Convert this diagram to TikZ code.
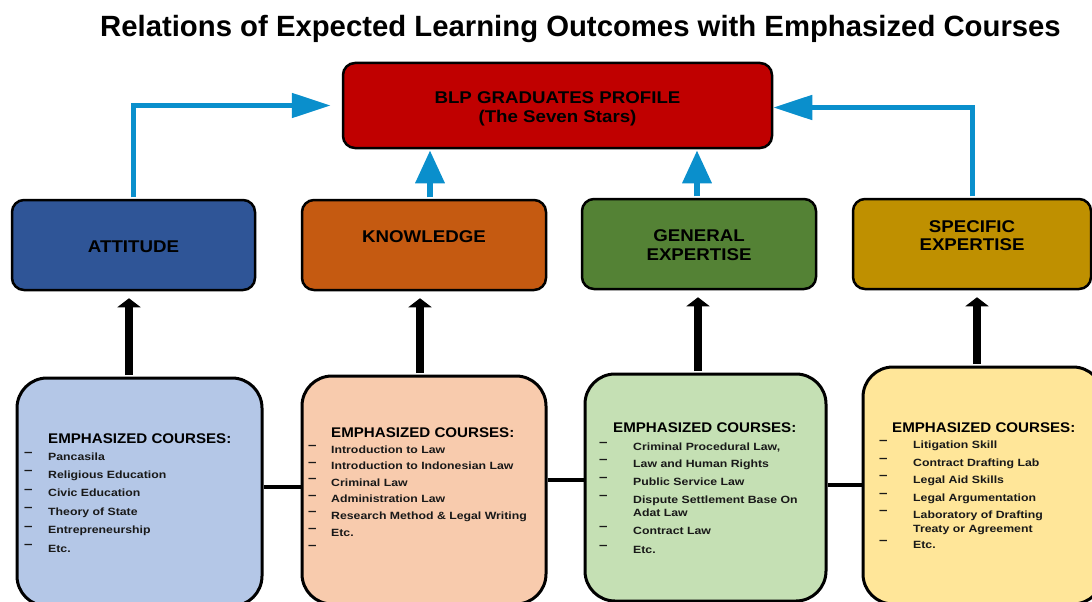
\documentclass[tikz,border=0pt]{standalone}
\usepackage{fontspec}
\setmainfont{Liberation Sans}
\newfontfamily\itemfont[FakeStretch=1.17]{Liberation Sans}
\newfontfamily\headfont[FakeStretch=1.08]{Liberation Sans}
\newfontfamily\lblfont[FakeStretch=1.1]{Liberation Sans}
\usetikzlibrary{arrows.meta}
\definecolor{cRed}{HTML}{C00000}
\definecolor{cAtt}{HTML}{2F5597}
\definecolor{cKnow}{HTML}{C55A11}
\definecolor{cGen}{HTML}{548235}
\definecolor{cSpec}{HTML}{BF9000}
\definecolor{cLBlue}{HTML}{B4C7E7}
\definecolor{cPeach}{HTML}{F8CBAD}
\definecolor{cLGreen}{HTML}{C5E0B4}
\definecolor{cLYellow}{HTML}{FFE699}
\definecolor{cArrow}{HTML}{0A8FCC}
\tikzset{
  topbox/.style={draw=black, line width=2.5pt, rounded corners=12pt, inner sep=0pt},
  botbox/.style={draw=black, line width=3pt, rounded corners=30pt, inner sep=0pt},
  lbl/.style={font=\lblfont\bfseries\fontsize{17}{20}\selectfont, text=black, anchor=base, inner sep=0pt},
  head/.style={font=\headfont\bfseries\fontsize{14}{16}\selectfont, text=black, anchor=base west, inner sep=0pt},
  itm/.style={font=\itemfont\bfseries\fontsize{10.5}{12}\selectfont, text=black!90, anchor=base west, inner sep=0pt},
  dsh/.style={font=\itemfont\bfseries\fontsize{13}{14}\selectfont, text=black!90, anchor=base west, inner sep=0pt},
  blu/.style={draw=cArrow, line width=5pt, -{Triangle[length=39pt,width=24pt]}},
  blum/.style={draw=cArrow, line width=6.5pt, -{Triangle[length=33pt,width=28pt]}},
  blk/.style={draw=black, line width=7.5pt, -{Triangle[length=9pt,width=23pt]}},
  conn/.style={draw=black, line width=4pt}
}
\newcommand{\dashmark}{\raisebox{3.5pt}{–}}
\begin{document}
\begin{tikzpicture}[x=1pt,y=-1pt]
\useasboundingbox (0,0) rectangle (1092,602);
\clip (0,0) rectangle (1092,602);

% title
\node[font=\bfseries\fontsize{29.3}{32}\selectfont, anchor=base, inner sep=0pt] (title) at (580.5,37) {Relations of Expected Learning Outcomes with Emphasized Courses};

% top box
\node[topbox, fill=cRed, minimum width=429pt, minimum height=85pt] (prof) at (557.5,105.5) {};
\node[lbl] (proft1) at (557.5,103) {BLP GRADUATES PROFILE};
\node[lbl] (proft2) at (557.5,122.5) {(The Seven Stars)};

% middle boxes
\node[topbox, fill=cAtt, minimum width=243pt, minimum height=90pt] (att) at (133.5,245) {};
\node[lbl] (attt) at (133.5,252) {ATTITUDE};
\node[topbox, fill=cKnow, minimum width=244pt, minimum height=90pt] (know) at (424,245) {};
\node[lbl] (knowt) at (424,242) {KNOWLEDGE};
\node[topbox, fill=cGen, minimum width=234pt, minimum height=90pt] (gen) at (699,244) {};
\node[lbl] (gent1) at (699,241) {GENERAL};
\node[lbl] (gent2) at (699,260) {EXPERTISE};
\node[topbox, fill=cSpec, minimum width=238pt, minimum height=90pt] (spec) at (972,244) {};
\node[lbl] (spect1) at (972,232) {SPECIFIC};
\node[lbl] (spect2) at (972,250) {EXPERTISE};

% bottom boxes
\node[botbox, fill=cLBlue, minimum width=245pt, minimum height=228pt] (b1) at (139.5,492) {};
\node[botbox, fill=cPeach, minimum width=244pt, minimum height=228pt] (b2) at (424,490) {};
\node[botbox, fill=cLGreen, minimum width=241pt, minimum height=227pt] (b3) at (705.5,487.5) {};
\node[botbox, fill=cLYellow, minimum width=240pt, minimum height=237pt] (b4) at (983,485.5) {};

% connectors between bottom boxes
\coordinate (c12) at (0,487);
\coordinate (c23) at (0,480);
\coordinate (c34) at (0,485);
\draw[conn] (b1.east |- c12) -- (b2.west |- c12);
\draw[conn] (b2.east |- c23) -- (b3.west |- c23);
\draw[conn] (b3.east |- c34) -- (b4.west |- c34);

% black arrows
\coordinate (k1) at (129,0);
\coordinate (k2) at (420,0);
\coordinate (k3) at (698,0);
\coordinate (k4) at (977,0);
\draw[blk, shorten <=1.5pt, shorten >=7pt] (k1 |- b1.north) -- (k1 |- att.south);
\draw[blk, shorten <=1.5pt, shorten >=7pt] (k2 |- b2.north) -- (k2 |- know.south);
\draw[blk, shorten <=1.5pt, shorten >=7pt] (k3 |- b3.north) -- (k3 |- gen.south);
\draw[blk, shorten <=1.5pt, shorten >=7pt] (k4 |- b4.north) -- (k4 |- spec.south);

% blue arrows
\draw[blu, shorten <=1.3pt] (att.north) |- ([xshift=-11pt]prof.west);
\draw[blu, shorten <=1.3pt] (spec.north) |- ([yshift=-2pt]prof.east);
\coordinate (m2) at (430,0);
\coordinate (m3) at (697,0);
\draw[blum, shorten <=1.3pt, shorten >=1pt] (m2 |- know.north) -- (m2 |- prof.south);
\draw[blum, shorten <=1.3pt, shorten >=1pt] (m3 |- gen.north) -- (m3 |- prof.south);

% blue box list
\node[head] (h1) at (48,443) {EMPHASIZED COURSES:};
\foreach \y/\t [count=\i] in {460/Pancasila, 478.4/Religious Education, 496.8/Civic Education, 515.2/Theory of State, 533.6/Entrepreneurship, 552/Etc.} {
  \node[dsh] (d1-\i) at (24,\y) {\dashmark};
  \node[itm] (i1-\i) at (48,\y) {\t};
}

% peach box list
\node[head] (h2) at (331,437) {EMPHASIZED COURSES:};
\foreach \y/\t [count=\i] in {453/Introduction to Law, 469.6/Introduction to Indonesian Law, 486.2/Criminal Law, 502.8/Administration Law, 519.4/Research Method \& Legal Writing, 536/Etc.} {
  \node[dsh] (d2-\i) at (308,\y) {\dashmark};
  \node[itm] (i2-\i) at (331,\y) {\t};
}
\node[dsh] (d2-7) at (308,552.6) {\dashmark};

% green box list
\node[head] (h3) at (613,432) {EMPHASIZED COURSES:};
\foreach \y/\t [count=\i] in {450/{Criminal Procedural Law,}, 467/Law and Human Rights, 485/Public Service Law, 503/Dispute Settlement Base On, 534/Contract Law, 553/Etc.} {
  \node[dsh] (d3-\i) at (599,\y) {\dashmark};
  \node[itm] (i3-\i) at (633,\y) {\t};
}
\node[itm] (i3-7) at (633,516.5) {Adat Law};

% yellow box list
\node[head] (h4) at (892,432) {EMPHASIZED COURSES:};
\foreach \y/\t [count=\i] in {448/Litigation Skill, 466/Contract Drafting Lab, 483/Legal Aid Skills, 501/Legal Argumentation, 518/Laboratory of Drafting, 548/Etc.} {
  \node[dsh] (d4-\i) at (879,\y) {\dashmark};
  \node[itm] (i4-\i) at (913,\y) {\t};
}
\node[itm] (i4-7) at (913,532) {Treaty or Agreement};
\end{tikzpicture}
\end{document}
